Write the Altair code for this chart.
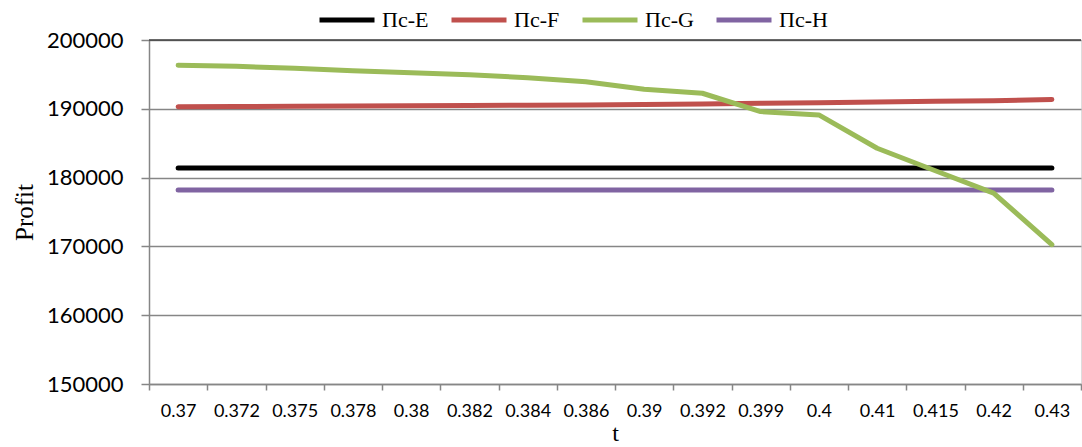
import altair as alt
import pandas as pd

t_labels = ["0.37", "0.372", "0.375", "0.378", "0.38", "0.382", "0.384", "0.386",
            "0.39", "0.392", "0.399", "0.4", "0.41", "0.415", "0.42", "0.43"]
series_names = ["Пс-E", "Пс-F", "Пс-G", "Пс-H"]
pc_e = [181400] * 16
pc_f = [190300, 190330, 190370, 190400, 190440, 190480, 190520, 190560,
        190620, 190680, 190800, 190870, 190980, 191080, 191180, 191350]
pc_g = [196330, 196180, 195890, 195540, 195250, 194960, 194530, 193940,
        192840, 192260, 189590, 189110, 184260, 181000, 177740, 170250]
pc_h = [178200] * 16
colors = ["#000000", "#C0504D", "#9BBB59", "#8064A2"]

rows = []
for name, vals in zip(series_names, [pc_e, pc_f, pc_g, pc_h]):
    for i, (t, v) in enumerate(zip(t_labels, vals)):
        rows.append({"t": t, "Profit": v, "series": name, "idx": i})
df = pd.DataFrame(rows)

serif = "Liberation Serif"
sans = "Lato"

color = alt.Color(
    "series:N",
    scale=alt.Scale(domain=series_names, range=colors),
    legend=alt.Legend(
        title=None, orient="none", direction="horizontal",
        legendX=168, legendY=-50,
        symbolType="stroke", symbolSize=3025, symbolStrokeWidth=5,
        labelFont=serif, labelFontSize=22, labelColor="#000000",
        labelOffset=5, columnPadding=12, padding=0,
    ),
)

x = alt.X(
    "t:N", sort=t_labels, title="t",
    scale=alt.Scale(paddingInner=0, paddingOuter=0),
    axis=alt.Axis(
        labelAngle=0, tickBand="extent", tickSize=6, tickColor="#868686",
        domainColor="#868686", domainWidth=1.5, tickWidth=1.5,
        labelFont=sans, labelFontSize=18, labelColor="#000000", labelPadding=12,
        titleFont=serif, titleFontSize=24, titleFontWeight="normal",
        titleColor="#000000", titleY=49, titleBaseline="middle", grid=False,
    ),
)
y = alt.Y(
    "Profit:Q", title="Profit",
    scale=alt.Scale(domain=[150000, 200000], nice=False, zero=False),
    axis=alt.Axis(
        values=[150000, 160000, 170000, 180000, 190000, 200000], format="d",
        tickSize=8, tickColor="#868686", tickWidth=1.5,
        domainColor="#868686", domainWidth=1.5,
        gridColor="#868686", gridWidth=1.5,
        labelFont=sans, labelFontSize=22, labelColor="#000000", labelPadding=18,
        titleFont=serif, titleFontSize=25, titleFontWeight="normal",
        titleColor="#000000", titleX=-125, titleY=172, titleAngle=-90,
        titleAlign="center", titleBaseline="middle",
    ),
)

base = alt.Chart(df).mark_line(strokeWidth=5, strokeCap="round", strokeJoin="round")
lines_other = base.transform_filter(alt.datum.series != "Пс-G").encode(
    x=x, y=y, color=color, order="idx:Q")
lines_g = base.transform_filter(alt.datum.series == "Пс-G").encode(
    x=x, y=y, color=color, order="idx:Q")

top_line = alt.Chart(pd.DataFrame({"v": [200000]})).mark_rule(
    color="#404040", strokeWidth=1.5).encode(y=alt.Y("v:Q"))

chart = alt.layer(lines_other, lines_g, top_line).properties(
    width=932, height=344,
    autosize=alt.AutoSizeParams(type="none"),
    padding={"left": 149, "top": 40, "right": 1, "bottom": 63},
).configure_view(stroke=None).configure(background="#ffffff")

chart.save("out.html", embed_options={"renderer": "svg", "actions": False})
